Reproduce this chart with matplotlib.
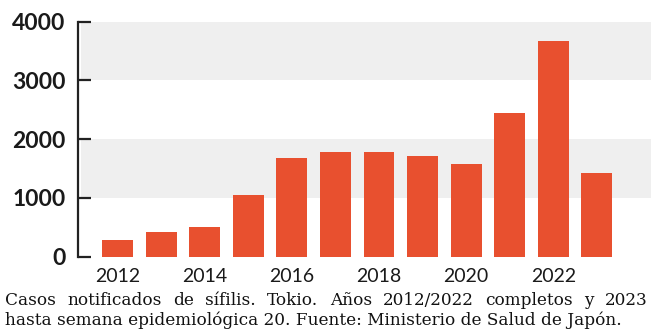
import matplotlib
matplotlib.use("Agg")
import matplotlib.pyplot as plt

years = [2012, 2013, 2014, 2015, 2016, 2017, 2018, 2019, 2020, 2021, 2022, 2023]
cases = [290, 425, 511, 1050, 1675, 1787, 1777, 1720, 1583, 2451, 3677, 1430]
xtick_years = [2012, 2014, 2016, 2018, 2020, 2022]
yticks = [0, 1000, 2000, 3000, 4000]
caption1 = "Casos notificados de sífilis. Tokio. Años 2012/2022 completos y 2023"
caption2 = "hasta semana epidemiológica 20. Fuente: Ministerio de Salud de Japón."

W, H = 651, 329
fig = plt.figure(figsize=(W/100, H/100), dpi=100)
fig.patch.set_facecolor("white")
ax = fig.add_axes([78/W, 72.3/H, (W-78)/W, 235/H])

ax.axhspan(1000, 2000, xmin=0.006, color="#efefef", zorder=0, lw=0)
ax.axhspan(3000, 4000, xmin=0.006, color="#efefef", zorder=0, lw=0)
ax.bar(years, cases, width=0.71, color="#e8502f", zorder=2)

ax.set_xlim(2011.094, 2024.24)
ax.set_ylim(0, 4000)
for s in ["top", "right", "bottom"]:
    ax.spines[s].set_visible(False)
ax.spines["left"].set_linewidth(1.6)
ax.spines["left"].set_color("#222222")
ax.set_yticks(yticks)
ax.set_yticklabels([str(v) for v in yticks], fontsize=16.5, fontfamily="Lato", fontweight="bold", color="#1a1a1a")
ax.tick_params(axis="y", direction="in", length=9, width=1.6, color="#222222", pad=9)
ax.set_xticks(xtick_years)
ax.set_xticklabels([str(v) for v in xtick_years], fontsize=14, fontfamily="Lato", color="#1a1a1a")
ax.tick_params(axis="x", length=0, pad=8)
ax.set_facecolor("white")

# caption, line 1 justified
fs = 12.15
fam = "DejaVu Serif"
fig.canvas.draw()
r = fig.canvas.get_renderer()
words = caption1.split(" ")
tmp = [fig.text(0, 0, w, fontsize=fs, fontfamily=fam) for w in words]
widths = [t.get_window_extent(r).width for t in tmp]
for t in tmp:
    t.remove()
x0, x1 = 5, 648
gap = (x1 - x0 - sum(widths)) / (len(words) - 1)
x = x0
for w, wd in zip(words, widths):
    fig.text(x / W, 1 - 305 / H, w, fontsize=fs, fontfamily=fam, color="#111111", va="baseline")
    x += wd + gap
fig.text(x0 / W, 1 - 325 / H, caption2, fontsize=fs, fontfamily=fam, color="#111111", va="baseline")

fig.savefig("out.png", dpi=100)
